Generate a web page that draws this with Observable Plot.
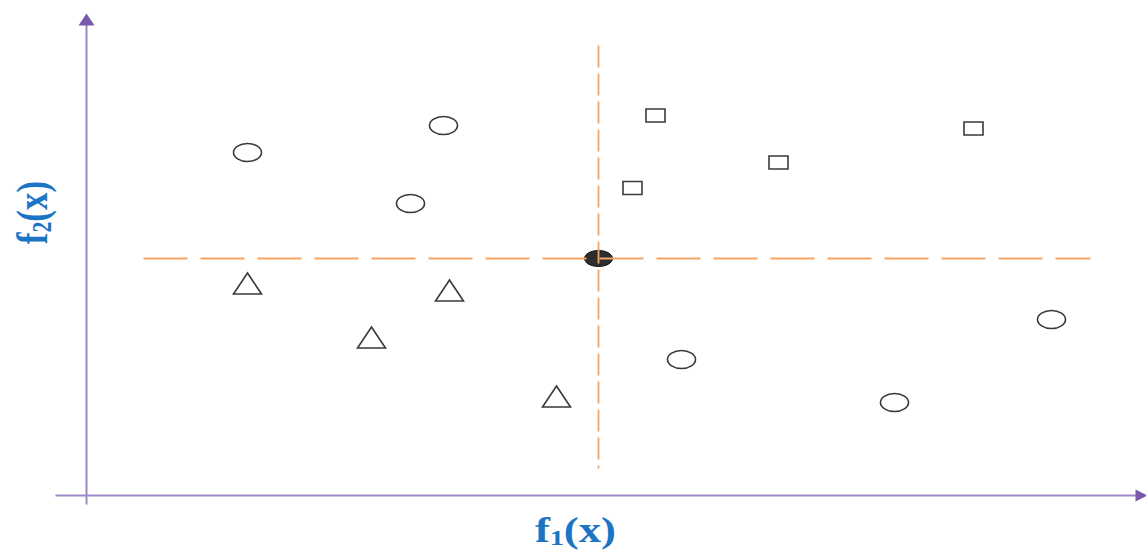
<!DOCTYPE html>
<html>
<head>
<meta charset="utf-8">
<script src="https://cdn.jsdelivr.net/npm/d3@7"></script>
<script src="https://cdn.jsdelivr.net/npm/@observablehq/plot@0.6"></script>
<style>
  html, body { margin: 0; padding: 0; background: #ffffff; }
  #chart { width: 1146px; height: 551px; overflow: hidden; }
</style>
</head>
<body>
<div id="chart"></div>
<script>
// ---- Data (objective-space units) ----
const circleF1 = [1.61, 3.57, 3.24, 5.95, 8.08, 9.65];
const circleF2 = [6.86, 7.40, 5.84, 2.72, 1.86, 3.52];

const triangleF1 = [1.61, 3.63, 2.85, 4.70];
const triangleF2 = [4.24, 4.10, 3.16, 1.98];

const squareF1 = [5.69, 5.46, 6.92, 8.87];
const squareF2 = [7.60, 6.15, 6.66, 7.34];

const refF1 = [5.12];
const refF2 = [4.74];

// dashed reference lines through the reference point
const vLineF2 = [9.0, 0.54];
const hLineF1 = [0.57, 10.04];

// axis extents
const xAxisF1 = [-0.31, 10.50];
const yAxisF2 = [-0.18, 9.42];
const xArrowTip = [10.55];
const yArrowTip = [9.52];

const xLabel = "f1(x)";
const yLabel = "f2(x)";
const xLabelPos = [4.89, -0.70];
const yLabelPos = [-0.54, 5.66];

// ---- custom symbols ----
const K = 0.5523;
function ellipsePath(ctx, rx, ry) {
  ctx.moveTo(rx, 0);
  ctx.bezierCurveTo(rx, ry * K, rx * K, ry, 0, ry);
  ctx.bezierCurveTo(-rx * K, ry, -rx, ry * K, -rx, 0);
  ctx.bezierCurveTo(-rx, -ry * K, -rx * K, -ry, 0, -ry);
  ctx.bezierCurveTo(rx * K, -ry, rx, -ry * K, rx, 0);
  ctx.closePath();
}
const ellipseSym = { draw(ctx, size) { const s = Math.sqrt(size / Math.PI); ellipsePath(ctx, 1.4 * s, 0.9 * s); } };
const flatEllipseSym = { draw(ctx, size) { const s = Math.sqrt(size / Math.PI); ellipsePath(ctx, 1.4 * s, 0.8 * s); } };
const triSym = { draw(ctx, size) {
  const s = Math.sqrt(size / Math.PI), w = 2.8 * s, h = 2.1 * s;
  ctx.moveTo(0, -h / 2); ctx.lineTo(w / 2, h / 2); ctx.lineTo(-w / 2, h / 2); ctx.closePath();
} };
const rectSym = { draw(ctx, size) {
  const s = Math.sqrt(size / Math.PI), w = 1.9 * s, h = 1.3 * s;
  ctx.rect(-w / 2, -h / 2, w, h);
} };
const upArrowSym = { draw(ctx, size) {
  const s = Math.sqrt(size / Math.PI), w = 1.6 * s, h = 1.2 * s;
  ctx.moveTo(0, -h / 2); ctx.lineTo(w / 2, h / 2); ctx.lineTo(-w / 2, h / 2); ctx.closePath();
} };
const rightArrowSym = { draw(ctx, size) {
  const s = Math.sqrt(size / Math.PI), w = 1.2 * s, h = 1.2 * s;
  ctx.moveTo(w / 2, 0); ctx.lineTo(-w / 2, h / 2); ctx.lineTo(-w / 2, -h / 2); ctx.closePath();
} };

// ---- tables ----
const circles = circleF1.map((f1, i) => ({ f1, f2: circleF2[i] }));
const triangles = triangleF1.map((f1, i) => ({ f1, f2: triangleF2[i] }));
const squares = squareF1.map((f1, i) => ({ f1, f2: squareF2[i] }));
const ref = refF1.map((f1, i) => ({ f1, f2: refF2[i] }));

const axisColor = "#9c89c6";
const arrowColor = "#7859ab";
const dashColor = "#f5a464";
const markStroke = "#3a3a3a";
const labelColor = "#1c74c4";

const chart = Plot.plot({
  width: 1146,
  height: 551,
  margin: 0,
  x: { domain: [-0.86, 10.60], axis: null },
  y: { domain: [-1.12, 9.90], axis: null },
  style: { background: "#ffffff", overflow: "visible" },
  marks: [
    // axes
    Plot.link([{}], { x1: xAxisF1[0], x2: xAxisF1[1], y1: 0, y2: 0, stroke: axisColor, strokeWidth: 2 }),
    Plot.link([{}], { x1: 0, x2: 0, y1: yAxisF2[0], y2: yAxisF2[1], stroke: axisColor, strokeWidth: 2 }),
    Plot.dot([{}], { x: xArrowTip[0], y: 0, r: 10, symbol: rightArrowSym, fill: arrowColor, stroke: "none" }),
    Plot.dot([{}], { x: 0, y: yArrowTip[0], r: 10, symbol: upArrowSym, fill: arrowColor, stroke: "none" }),
    // reference point
    Plot.dot(ref, { x: "f1", y: "f2", r: 10, symbol: flatEllipseSym, fill: "#2e2e2e", stroke: "#111111", strokeWidth: 1 }),
    // dashed lines
    Plot.link([{}], { x1: refF1[0], x2: refF1[0], y1: vLineF2[0], y2: vLineF2[1], stroke: dashColor, strokeWidth: 1.8, strokeDasharray: "22,6" }),
    Plot.link([{}], { x1: hLineF1[0], x2: hLineF1[1], y1: refF2[0], y2: refF2[0], stroke: dashColor, strokeWidth: 1.8, strokeDasharray: "44,13" }),
    // points
    Plot.dot(circles, { x: "f1", y: "f2", r: 10, symbol: ellipseSym, fill: "none", stroke: markStroke, strokeWidth: 1.6 }),
    Plot.dot(triangles, { x: "f1", y: "f2", r: 10, symbol: triSym, fill: "none", stroke: markStroke, strokeWidth: 1.6 }),
    Plot.dot(squares, { x: "f1", y: "f2", r: 10, symbol: rectSym, fill: "none", stroke: markStroke, strokeWidth: 1.6 }),
    // labels
    Plot.text([xLabel], { x: xLabelPos[0], y: xLabelPos[1], text: d => d, fill: labelColor,
      fontFamily: "Liberation Serif", fontWeight: "bold", fontSize: 35, textAnchor: "middle" }),
    Plot.text([yLabel], { x: yLabelPos[0], y: yLabelPos[1], text: d => d, rotate: -90, fill: labelColor,
      fontFamily: "Liberation Serif", fontWeight: "bold", fontSize: 35, textAnchor: "middle" })
  ]
});

// subscripts + horizontal stretch for the axis labels
d3.select(chart).selectAll("text").each(function () {
  const t = d3.select(this);
  const s = t.text();
  if (s !== xLabel && s !== yLabel) return;
  const tr = t.attr("transform") || "";
  const m = tr.match(/translate\([^)]*\)/);
  const translate = m ? m[0] : "";
  const rest = tr.replace(translate, "").trim();
  t.attr("transform", `${translate} scale(1.28,1) ${rest}`);
  t.text(null);
  t.append("tspan").text(s[0]);
  t.append("tspan").attr("font-size", "0.62em").attr("dy", "0.14em").text(s[1]);
  t.append("tspan").attr("dy", "-0.087em").text(s.slice(2));
});

document.getElementById("chart").appendChild(chart);
</script>
</body>
</html>
